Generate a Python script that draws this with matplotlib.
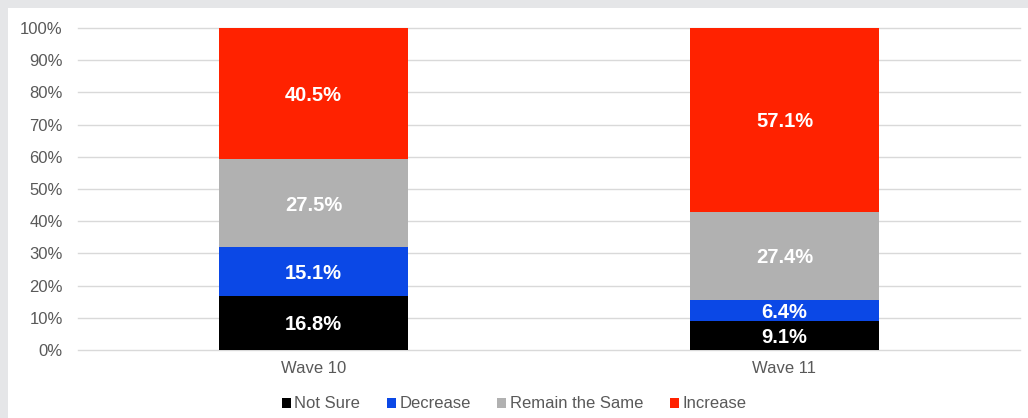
import matplotlib
matplotlib.use("Agg")
import matplotlib.pyplot as plt
from matplotlib.patches import Rectangle

plt.rcParams["font.family"] = ["Liberation Sans", "DejaVu Sans"]

categories = ["Wave 10", "Wave 11"]
series_names = ["Not Sure", "Decrease", "Remain the Same", "Increase"]
not_sure = [16.8, 9.1]
decrease = [15.1, 6.4]
remain = [27.5, 27.4]
increase = [40.5, 57.1]
series_values = [not_sure, decrease, remain, increase]
colors = ["#000000", "#0b48e6", "#b1b1b1", "#ff2200"]
yticks = list(range(0, 101, 10))

W, H = 1028, 418
fig = plt.figure(figsize=(W / 100, H / 100), dpi=100)
fig.patch.set_facecolor("#e5e6e8")
fig.add_artist(Rectangle((8 / W, 0), 1 - 8 / W, 1 - 8 / H, transform=fig.transFigure,
                         facecolor="white", edgecolor="none", zorder=0))

ax = fig.add_axes([78 / W, (H - 350) / H, (1020 - 78) / W, (350 - 28) / H])
ax.set_facecolor("none")
x = list(range(len(categories)))
bottom = [0.0] * len(categories)
for name, vals, c in zip(series_names, series_values, colors):
    ax.bar(x, vals, bottom=bottom, width=0.4, color=c, label=name, zorder=3)
    for xi, v, b in zip(x, vals, bottom):
        ax.text(xi, b + v / 2, f"{v:.1f}%", ha="center", va="center_baseline", color="white",
                fontsize=14.5, fontweight="bold", zorder=4)
    bottom = [b + v for b, v in zip(bottom, vals)]

ax.set_xlim(-0.5, 1.5)
ax.set_ylim(0, 100)
ax.set_yticks(yticks)
ax.set_yticklabels([f"{t}%" for t in yticks])
ax.set_xticks(x)
ax.set_xticklabels(categories)
for t in yticks:
    ax.axhline(t, color="#d9d9d9", linewidth=1, zorder=0, clip_on=False)
for s in ax.spines.values():
    s.set_visible(False)
ax.tick_params(axis="both", length=0, colors="#595959", labelsize=12)
ax.tick_params(axis="y", pad=11)
ax.tick_params(axis="x", pad=8)

leg = fig.legend(loc="center", bbox_to_anchor=(0.5, (H - 404) / H), ncol=4, frameon=False,
                 fontsize=12, handlelength=0.55, handleheight=0.55, handletextpad=0.2,
                 columnspacing=1.6)
for t in leg.get_texts():
    t.set_color("#595959")

fig.savefig("out.png", dpi=100, facecolor=fig.get_facecolor())
